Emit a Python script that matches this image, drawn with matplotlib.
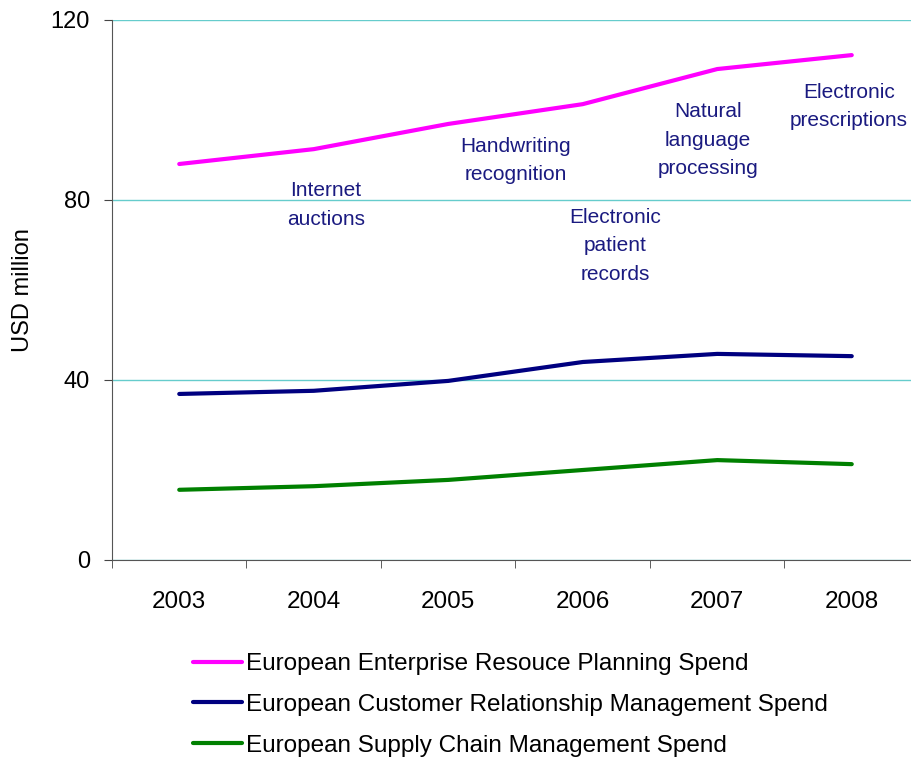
import matplotlib.pyplot as plt
import numpy as np

plt.rcParams['font.family'] = ['Liberation Sans', 'DejaVu Sans']

years = ['2003', '2004', '2005', '2006', '2007', '2008']
erp = [88.0, 91.3, 96.9, 101.3, 109.1, 112.2]
crm = [36.9, 37.6, 39.8, 44.0, 45.8, 45.3]
scm = [15.6, 16.4, 17.8, 20.0, 22.2, 21.3]
series_names = ['European Enterprise Resouce Planning Spend',
                'European Customer Relationship Management Spend',
                'European Supply Chain Management Spend']
notes = ['Internet\nauctions', 'Handwriting\nrecognition', 'Electronic\npatient\nrecords',
         'Natural\nlanguage\nprocessing', 'Electronic\nprescriptions']
note_x = [1.09, 2.50, 3.24, 3.93, 4.98]
note_y = [78.9, 88.7, 69.8, 93.3, 100.7]

fig = plt.figure(figsize=(9.12, 7.58), dpi=100)
ax = fig.add_axes([112/912, 198/758, 807/912, 540/758])

x = np.arange(len(years))
ax.plot(x, erp, color='#FF00FF', lw=3, label=series_names[0], solid_capstyle='round')
ax.plot(x, crm, color='#000080', lw=3, label=series_names[1], solid_capstyle='round')
ax.plot(x, scm, color='#008000', lw=3, label=series_names[2], solid_capstyle='round')

for t, tx, ty in zip(notes, note_x, note_y):
    ax.text(tx, ty, t, color='#1a1a80', fontsize=15, ha='center', va='center',
            linespacing=1.62)

ax.set_xlim(-0.5, 5.5)
ax.set_ylim(0, 120)
ax.set_yticks([0, 40, 80, 120])
ax.set_xticks(x)
ax.set_xticklabels(years)
ax.set_xticks(np.arange(-0.5, 6, 1), minor=True)
ax.tick_params(axis='x', which='major', length=0, pad=22, labelsize=17.5)
ax.tick_params(axis='x', which='minor', length=6, color='#444444', direction='out')
ax.tick_params(axis='y', length=6, color='#444444', pad=10, labelsize=17)
ax.grid(axis='y', color='#66CCCC', lw=1)
ax.set_axisbelow(True)
for s in ['top', 'right']:
    ax.spines[s].set_visible(False)
for s in ['left', 'bottom']:
    ax.spines[s].set_color('#555555')
ax.set_ylabel('USD million', fontsize=17, labelpad=12)

fig.legend(loc='upper left', bbox_to_anchor=(193/912, 1 - 653/758), frameon=False,
           fontsize=17.5, handlelength=2.0, handletextpad=0.2, labelspacing=0.78,
           borderpad=0, borderaxespad=0)

fig.savefig('out.png', dpi=100)
